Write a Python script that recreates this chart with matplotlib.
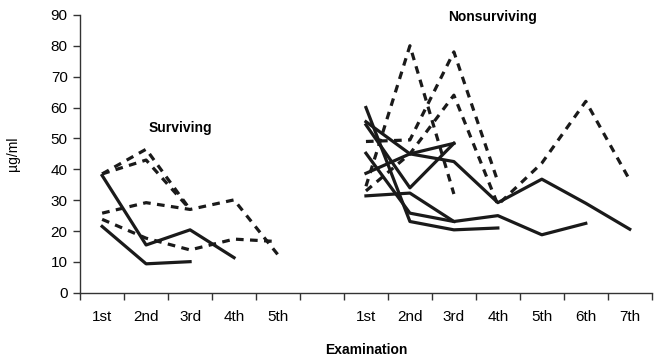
import numpy as np
import matplotlib.pyplot as plt

plt.rcParams['font.family'] = ['Liberation Sans', 'DejaVu Sans']

# examination labels for each group
surv_labels = ['1st', '2nd', '3rd', '4th', '5th']
nonsurv_labels = ['1st', '2nd', '3rd', '4th', '5th', '6th', '7th']

# surviving patients (µg/ml per examination)
surv_solid = [
    [38, 15.5, 20.4, 11.4],
    [21.5, 9.4, 10.1],
]
surv_dashed = [
    [38.5, 46.5, 27],
    [38.5, 43, 27],
    [25.8, 29.2, 27, 30.1, 12.3],
    [23.8, 17.7, 13.9, 17.4, 16.6],
]

# nonsurviving patients
nonsurv_solid = [
    [60, 23.1, 20.4, 21],
    [55.4, 45, 42.5, 29.2, 36.8, 29, 20.6],
    [54.4, 34, 48.4],
    [38.7, 45, 48.4],
    [45.2, 25.8, 23.1],
    [31.4, 32.3, 23.1, 25, 18.8, 22.5],
]
nonsurv_dashed = [
    [34.5, 80, 32],
    [49, 49.5, 78, 36],
    [33, 45, 64, 28.5, 42, 62, 36.5],
]

offset = len(surv_labels) + 1  # one empty slot between groups
n_slots = offset + len(nonsurv_labels)

fig = plt.figure(figsize=(6.57, 3.62), dpi=100)
ax = fig.add_axes([0.122, 0.191, 0.870, 0.768])

col = '#1a1a1a'
lw = 2.3
for vals in surv_solid:
    ax.plot(np.arange(len(vals)), vals, color=col, lw=lw)
for vals in surv_dashed:
    ax.plot(np.arange(len(vals)), vals, color=col, lw=lw, dashes=(2.4, 2.0))
for vals in nonsurv_solid:
    ax.plot(offset + np.arange(len(vals)), vals, color=col, lw=lw)
for vals in nonsurv_dashed:
    ax.plot(offset + np.arange(len(vals)), vals, color=col, lw=lw, dashes=(2.4, 2.0))

ax.set_xlim(-0.5, n_slots - 0.5)
ax.set_ylim(0, 90)
ax.set_yticks(np.arange(0, 91, 10))

# category boundaries as ticks, labels at the centres
ax.set_xticks(np.arange(-0.5, n_slots, 1.0))
ax.set_xticklabels([])
centres = list(range(len(surv_labels))) + list(offset + np.arange(len(nonsurv_labels)))
ax.set_xticks(centres, minor=True)
ax.set_xticklabels(surv_labels + nonsurv_labels, minor=True)
ax.tick_params(axis='x', which='minor', length=0, pad=12, labelsize=11)
ax.tick_params(axis='x', which='major', length=5, width=1, color='#333333')
ax.tick_params(axis='y', length=5, width=1, color='#333333', labelsize=11, pad=4)

for s in ['top', 'right']:
    ax.spines[s].set_visible(False)
for s in ['left', 'bottom']:
    ax.spines[s].set_color('#333333')
    ax.spines[s].set_linewidth(1)

ax.set_ylabel('µg/ml', fontsize=10, labelpad=22)
ax.set_xlabel('Examination', fontsize=10, fontweight='bold', labelpad=14)

ax.text(1.77, 53.4, 'Surviving', fontsize=10, fontweight='bold', ha='center', va='center')
ax.text(8.89, 89.3, 'Nonsurviving', fontsize=10, fontweight='bold', ha='center', va='center')

fig.savefig('out.png', dpi=100)
